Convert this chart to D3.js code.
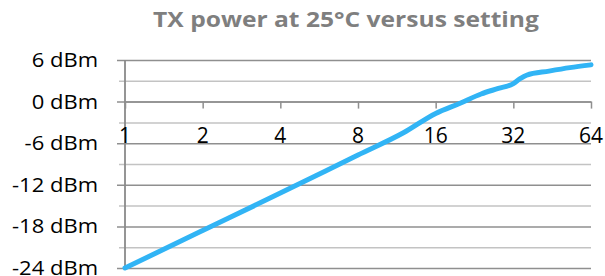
<!DOCTYPE html>
<html>
<head>
<meta charset="utf-8">
<script src="https://d3js.org/d3.v7.min.js"></script>
<style>
    body { margin: 0; background: white; }
    svg { display: block; }
</style>
</head>
<body>
<svg id="vis"></svg>
<script>
// TX power, setting (log2 axis) vs dBm
var settings = [1, 2, 4, 8, 12, 16, 20, 24, 28, 32, 34, 36, 44, 53, 64];
var power = [-24, -18.6, -13.2, -7.7, -4.5, -1.7, -0.2, 1.1, 1.9, 2.6, 3.3, 3.8, 4.4, 4.9, 5.3];

var xTicks = [1, 2, 4, 8, 16, 32, 64];
var yTicks = [-24, -18, -12, -6, 0, 6];
var yMinor = [-21, -15, -9, -3, 3];
var titleText = "TX power at 25°C versus setting";

const WIDTH = 605;
const HEIGHT = 276;

window.onload = function() {
    setupVis();
};

function setupVis() {
    let svg = d3.select("#vis")
        .attr("width", WIDTH)
        .attr("height", HEIGHT);

    let xScale = d3.scaleLog().base(2)
        .domain([1, 64])
        .range([125, 591]);

    let yScale = d3.scaleLinear()
        .domain([-24, 6])
        .range([268, 60]);

    // minor gridlines (every 3 dBm), lighter
    let minorAxis = d3.axisLeft(yScale)
        .tickValues(yMinor)
        .tickSize(-(591 - 119))
        .tickFormat("");
    svg.append("g")
        .attr("transform", "translate(119,0)")
        .call(minorAxis)
        .call(function(g) {
            g.select(".domain").remove();
            g.selectAll("line").attr("stroke", "#c3c3c3").attr("stroke-width", 1.5);
        });

    // major gridlines with the left stubs
    let yAxis = d3.axisLeft(yScale)
        .tickValues(yTicks)
        .tickSize(-(591 - 117))
        .tickFormat("");
    svg.append("g")
        .attr("transform", "translate(117,0)")
        .call(yAxis)
        .call(function(g) {
            g.select(".domain").remove();
            g.selectAll("line").attr("stroke", "#8f8f8f").attr("stroke-width", 1.5);
        });

    // y labels
    svg.selectAll("text.ylab")
        .data(yTicks)
        .enter()
        .append("text")
        .attr("class", "ylab")
        .text(function(d) { return d + " dBm"; })
        .attr("transform", function(d) {
            return "translate(98," + (yScale(d) + 7) + ") scale(1.1,1)";
        })
        .attr("font-family", "Open Sans")
        .attr("font-size", "20px")
        .attr("fill", "black")
        .style("text-anchor", "end");

    // y axis line
    svg.append("line")
        .attr("x1", xScale(1)).attr("x2", xScale(1))
        .attr("y1", yScale(6)).attr("y2", yScale(-24))
        .attr("stroke", "#8a8a8a")
        .attr("stroke-width", 1.8);

    // x axis crosses at 0 dBm, ticks point down, labels sit lower
    let xAxis = d3.axisBottom(xScale)
        .tickValues(xTicks)
        .tickSize(7)
        .tickSizeOuter(0)
        .tickFormat("");
    svg.append("g")
        .attr("transform", "translate(0," + yScale(0) + ")")
        .call(xAxis)
        .call(function(g) {
            g.select(".domain").attr("stroke", "#8f8f8f").attr("stroke-width", 1.5);
            g.selectAll("line").attr("stroke", "#8f8f8f").attr("stroke-width", 1.5);
        });

    svg.selectAll("text.xlab")
        .data(xTicks)
        .enter()
        .append("text")
        .attr("class", "xlab")
        .text(function(d) { return d; })
        .attr("x", function(d) { return xScale(d); })
        .attr("y", yScale(-6))
        .attr("font-family", "Open Sans")
        .attr("font-size", "21px")
        .attr("fill", "black")
        .style("text-anchor", "middle");

    // the data line
    let line = d3.line()
        .x(function(d, i) { return xScale(settings[i]); })
        .y(function(d) { return yScale(d); })
        .curve(d3.curveMonotoneX);

    svg.append("path")
        .datum(power)
        .attr("d", line)
        .attr("fill", "none")
        .attr("stroke", "#31b4f5")
        .attr("stroke-width", 5)
        .attr("stroke-linecap", "round")
        .attr("stroke-linejoin", "round");

    // title
    svg.append("text")
        .text(titleText)
        .attr("transform", "translate(346,27) scale(1.2,1)")
        .attr("font-family", "Open Sans")
        .attr("font-weight", "bold")
        .attr("font-size", "20.5px")
        .attr("fill", "#7f7f7f")
        .style("text-anchor", "middle");
}
</script>
</body>
</html>
